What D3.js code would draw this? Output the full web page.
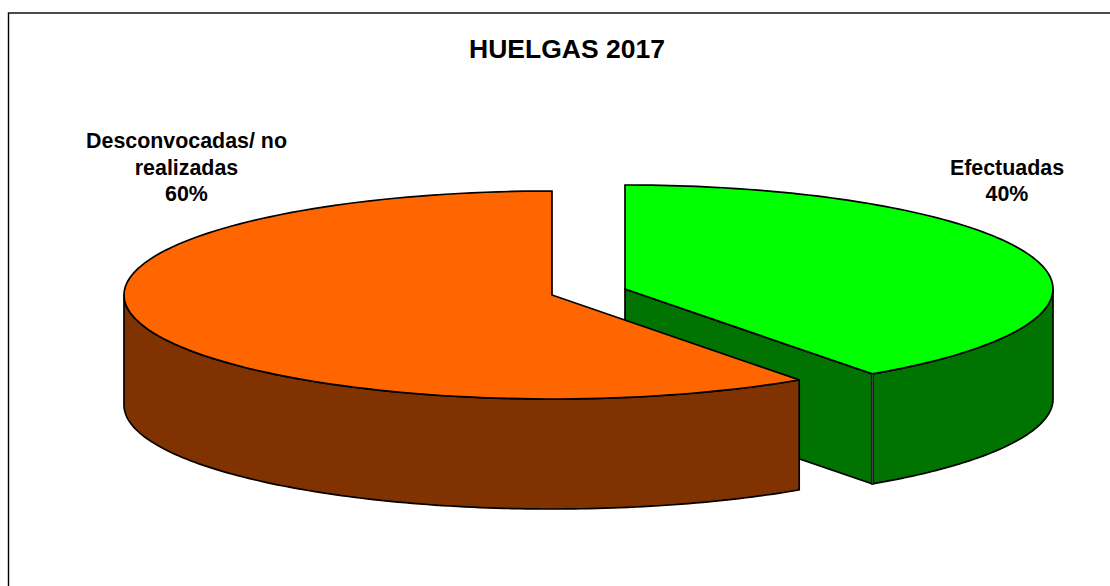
<!DOCTYPE html>
<html>
<head>
<meta charset="utf-8">
<script src="https://cdn.jsdelivr.net/npm/d3@7/dist/d3.min.js"></script>
<style>
html,body{margin:0;padding:0;background:#fff;overflow:hidden}
svg{display:block}
text{font-family:"Liberation Sans",Arial,sans-serif;font-weight:bold;fill:#000}
</style>
</head>
<body>
<svg id="c" width="1110" height="586"></svg>
<script>
const title = "HUELGAS 2017";
const categories = ["Efectuadas", "Desconvocadas/ no realizadas"];
const values = [40.2, 59.8];
const labelLines = [["Efectuadas"], ["Desconvocadas/ no", "realizadas"]];
const topColors = ["#00ff00", "#ff6600"];
const sideColors = ["#007300", "#803300"];

const svg = d3.select("#c");
svg.append("rect").attr("x", 8.5).attr("y", 13).attr("width", 1200).attr("height", 800)
  .attr("fill", "#fff").attr("stroke", "#000").attr("stroke-width", 1.4);

const rx = 428, ry = 104, depth = 110;
const centers = [{x: 625, y: 289}, {x: 552, y: 295}];
const total = d3.sum(values);
const arcs = d3.pie().sort(null).value(d => d)(values);

const px = (c, a) => c.x + rx * Math.sin(a);
const py = (c, a) => c.y - ry * Math.cos(a);
const line = d3.line().x(d => d[0]).y(d => d[1]);
const samples = (a0, a1) => d3.range(0, 121).map(i => a0 + (a1 - a0) * i / 120);

function rimPts(c, a0, a1, dy) {
  return samples(a0, a1).map(a => [px(c, a), py(c, a) + dy]);
}
function drawFace(pts, fill) {
  svg.append("path").attr("d", line(pts) + "Z").attr("fill", fill)
    .attr("stroke", "#000").attr("stroke-width", 1.7).attr("stroke-linejoin", "miter");
}

// green slice
{
  const c = centers[0], s = arcs[0];
  const e = s.endAngle;
  const corner = [px(c, e), py(c, e)];
  drawFace([[c.x, c.y], corner, [corner[0], corner[1] + depth], [c.x, c.y + depth]], sideColors[0]);
  const wall = rimPts(c, Math.PI / 2, e, 0).concat(rimPts(c, e, Math.PI / 2, depth));
  drawFace(wall, sideColors[0]);
  drawFace([[c.x, c.y]].concat(rimPts(c, s.startAngle, e, 0)), topColors[0]);
  svg.append("line").attr("x1", corner[0]).attr("x2", corner[0]).attr("y1", corner[1]).attr("y2", corner[1] + depth)
    .attr("stroke", "#000").attr("stroke-width", 2.6);
  svg.append("line").attr("x1", corner[0]).attr("x2", corner[0]).attr("y1", corner[1]).attr("y2", corner[1] + depth)
    .attr("stroke", "#777").attr("stroke-width", 0.8);
}
// orange slice
{
  const c = centers[1], s = arcs[1];
  const wall = rimPts(c, s.startAngle, 1.5 * Math.PI, 0).concat(rimPts(c, 1.5 * Math.PI, s.startAngle, depth));
  drawFace(wall, sideColors[1]);
  drawFace([[c.x, c.y]].concat(rimPts(c, s.startAngle, s.endAngle, 0)), topColors[1]);
}

svg.append("text").attr("x", 567).attr("y", 58).attr("text-anchor", "middle")
  .attr("font-size", 26.5).text(title);

const labelPos = [{x: 1007, y: 174.5}, {x: 186.5, y: 148}];
const fmt = d3.format(".0%");
labelLines.forEach((lines, i) => {
  const t = svg.append("text").attr("text-anchor", "middle").attr("font-size", 21.4);
  lines.concat([fmt(values[i] / total)]).forEach((l, j) => {
    t.append("tspan").attr("x", labelPos[i].x).attr("y", labelPos[i].y + j * 26.5).text(l);
  });
});
</script>
</body>
</html>
